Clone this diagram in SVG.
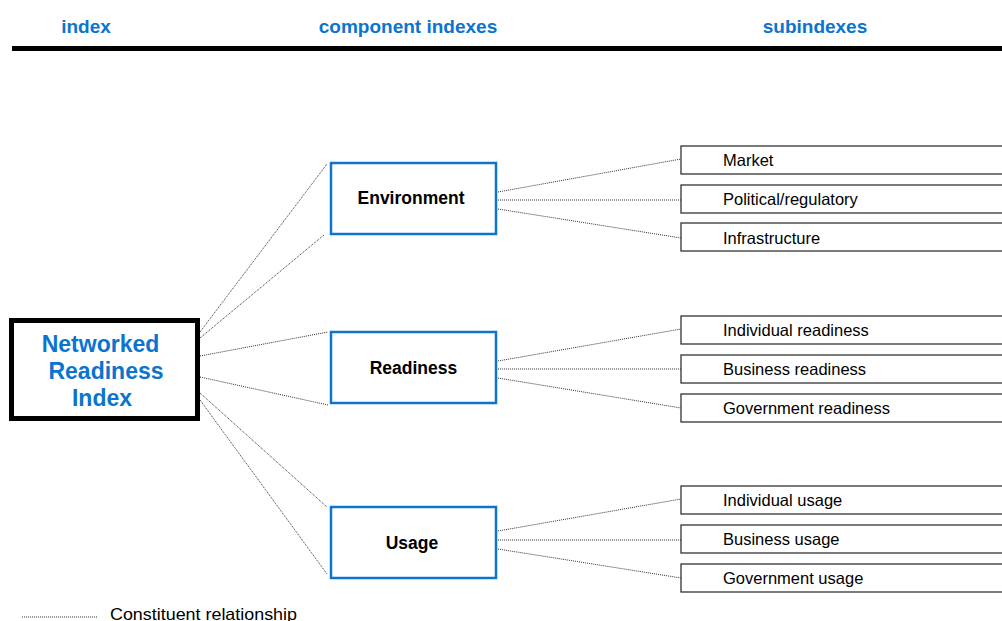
<svg xmlns="http://www.w3.org/2000/svg" width="1002" height="621" viewBox="0 0 1002 621">
<style>
.hdr{font-family:"Liberation Sans",Arial,sans-serif;font-weight:bold;font-size:19px;fill:#0A74CF;text-anchor:middle}
.nri{font-family:"Liberation Sans",Arial,sans-serif;font-weight:bold;font-size:23px;fill:#0A74CF;text-anchor:middle}
.comp{fill:#fff;stroke:#0A74CF;stroke-width:2.5}
.ctxt{font-family:"Liberation Sans",Arial,sans-serif;font-weight:bold;font-size:17.5px;fill:#000;text-anchor:middle}
.sub{fill:#fff;stroke:#333;stroke-width:1.3}
.stxt{font-family:"Liberation Sans",Arial,sans-serif;font-size:16.5px;fill:#000}
.con{fill:none;stroke:#333;stroke-width:1;stroke-dasharray:1 1}
</style>
<rect width="1002" height="621" fill="#fff"/>
<text class="hdr" x="86" y="33">index</text>
<text class="hdr" x="408" y="33">component indexes</text>
<text class="hdr" x="815" y="33">subindexes</text>
<rect x="12" y="46" width="990" height="5" fill="#000"/>
<g id="connectors">
<line class="con" x1="200" y1="332" x2="327" y2="164"/>
<line class="con" x1="200" y1="338" x2="324" y2="235"/>
<line class="con" x1="200" y1="356" x2="328" y2="332"/>
<line class="con" x1="200" y1="377" x2="328" y2="405"/>
<line class="con" x1="200" y1="393" x2="327" y2="507"/>
<line class="con" x1="200" y1="400" x2="327" y2="574"/>
<line class="con" x1="498" y1="192" x2="681" y2="159"/>
<line class="con" x1="498" y1="200" x2="681" y2="200"/>
<line class="con" x1="498" y1="209" x2="681" y2="238"/>
<line class="con" x1="498" y1="361" x2="681" y2="329"/>
<line class="con" x1="498" y1="369" x2="681" y2="369"/>
<line class="con" x1="498" y1="378" x2="681" y2="408"/>
<line class="con" x1="498" y1="531" x2="681" y2="499"/>
<line class="con" x1="498" y1="540" x2="681" y2="540"/>
<line class="con" x1="498" y1="549" x2="681" y2="578"/>
</g>
<g id="nri">
<rect x="11.5" y="320.5" width="186" height="98" fill="#fff" stroke="#000" stroke-width="5"/>
<text class="nri" x="100.5" y="352">Networked</text>
<text class="nri" x="106" y="379">Readiness</text>
<text class="nri" x="102" y="406">Index</text>
</g>
<g id="environment">
<rect class="comp" x="331" y="163" width="165" height="71"/>
<text class="ctxt" x="411" y="204">Environment</text>
</g>
<g id="readiness">
<rect class="comp" x="331" y="332" width="165" height="71"/>
<text class="ctxt" x="413.5" y="374">Readiness</text>
</g>
<g id="usage">
<rect class="comp" x="331" y="507" width="165" height="71"/>
<text class="ctxt" x="412" y="549">Usage</text>
</g>
<g id="market"><rect class="sub" x="681" y="146" width="330" height="28"/><text class="stxt" x="723" y="166">Market</text></g>
<g id="political"><rect class="sub" x="681" y="185" width="330" height="28"/><text class="stxt" x="723" y="205">Political/regulatory</text></g>
<g id="infrastructure"><rect class="sub" x="681" y="223" width="330" height="28"/><text class="stxt" x="723" y="244">Infrastructure</text></g>
<g id="individual-readiness"><rect class="sub" x="681" y="316" width="330" height="28"/><text class="stxt" x="723" y="336">Individual readiness</text></g>
<g id="business-readiness"><rect class="sub" x="681" y="355" width="330" height="28"/><text class="stxt" x="723" y="375">Business readiness</text></g>
<g id="government-readiness"><rect class="sub" x="681" y="394" width="330" height="28"/><text class="stxt" x="723" y="414">Government readiness</text></g>
<g id="individual-usage"><rect class="sub" x="681" y="486" width="330" height="28"/><text class="stxt" x="723" y="506">Individual usage</text></g>
<g id="business-usage"><rect class="sub" x="681" y="525" width="330" height="28"/><text class="stxt" x="723" y="545">Business usage</text></g>
<g id="government-usage"><rect class="sub" x="681" y="564" width="330" height="28"/><text class="stxt" x="723" y="584">Government usage</text></g>
<g id="legend">
<line class="con" x1="22" y1="617" x2="98" y2="617"/>
<text class="stxt" x="110" y="620" font-size="17.5" textLength="187" lengthAdjust="spacingAndGlyphs">Constituent relationship</text>
</g>
</svg>
